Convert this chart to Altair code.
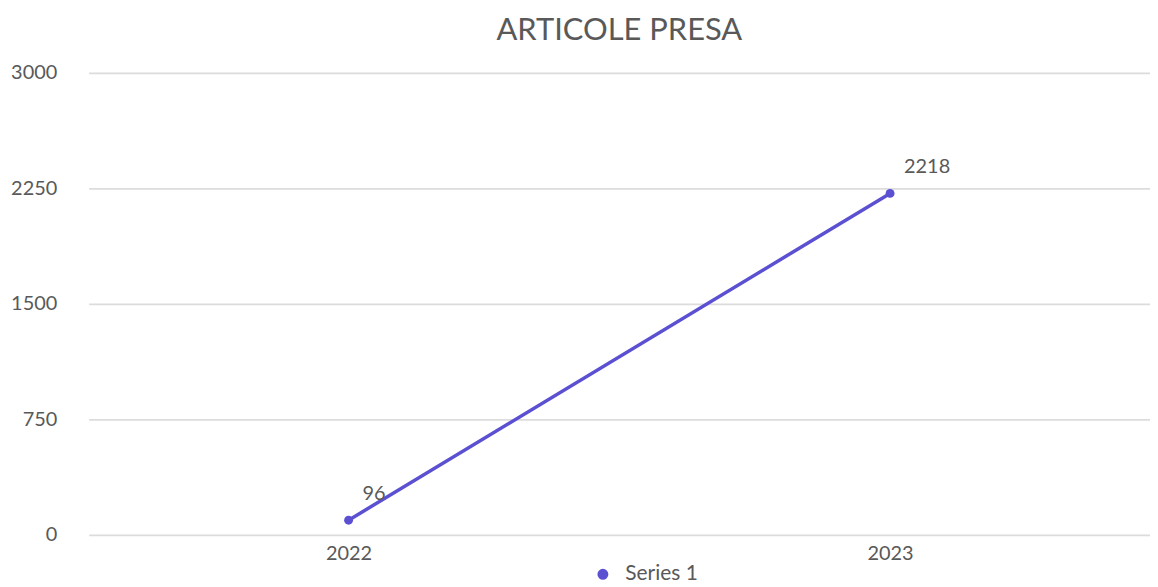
import altair as alt
import pandas as pd

years = ["2022", "2023"]
values = [96, 2218]
series = ["Series 1", "Series 1"]
y_ticks = [0, 750, 1500, 2250, 3000]
title_text = "ARTICOLE PRESA"

df = pd.DataFrame({"year": years, "value": values, "series": series})

FONT = "Lato"
GRAY = "#595959"
PURPLE = "#5B50D2"

x_enc = alt.X(
    "year:O",
    scale=alt.Scale(type="point", padding=0.48),
    axis=alt.Axis(
        title=None, labelAngle=0, grid=False, domain=False, ticks=False,
        labelPadding=9, labelFontSize=20, labelColor=GRAY, labelFont=FONT,
    ),
)
y_enc = alt.Y(
    "value:Q",
    scale=alt.Scale(domain=[0, 3000], nice=False),
    axis=alt.Axis(
        title=None, values=y_ticks, format="d", grid=True, gridColor="#DCDCDC",
        gridWidth=1.8, domain=False, ticks=False, labelPadding=32,
        labelFontSize=20, labelColor=GRAY, labelFont=FONT,
    ),
)
color_enc = alt.Color(
    "series:N",
    scale=alt.Scale(domain=["Series 1"], range=[PURPLE]),
    legend=alt.Legend(
        title=None, orient="none", legendX=506, legendY=493, direction="horizontal",
        symbolType="circle", symbolSize=90, labelFontSize=21, labelOffset=12,
        labelColor=GRAY, labelFont=FONT, padding=0,
    ),
)

base = alt.Chart(df).encode(x=x_enc, y=y_enc)

line = base.mark_line(strokeWidth=3.5).encode(color=color_enc)
points = base.mark_point(filled=True, size=80, shape="circle", opacity=1).encode(color=color_enc)
labels = base.mark_text(
    align="left", baseline="middle", dx=14, dy=-26, fontSize=20, color=GRAY, font=FONT
).encode(text="value:Q")

chart = (
    alt.layer(line, points, labels)
    .properties(
        width=1066,
        height=464,
        title=alt.TitleParams(
            title_text, fontSize=31, font=FONT, fontWeight="normal", color=GRAY,
            anchor="middle", offset=16,
        ),
        padding={"left": 2, "top": 6, "right": 0, "bottom": 0},
        background="white",
    )
    .configure_view(stroke=None)
)

chart.save("out.html", embed_options={"renderer": "svg", "actions": False})
